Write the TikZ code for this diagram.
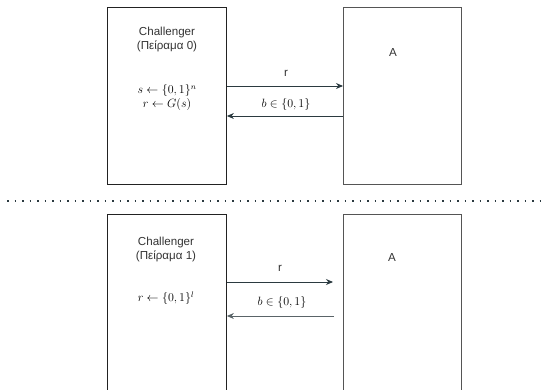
\documentclass[tikz,border=0pt]{standalone}
\usepackage{fontspec}
\setmainfont{Liberation Sans}
\usetikzlibrary{arrows.meta}
\definecolor{txt}{HTML}{333333}
\definecolor{arr}{HTML}{2B3A40}
\definecolor{arrlight}{HTML}{5A6468}
\definecolor{boxline}{HTML}{222222}
\definecolor{boxline2}{HTML}{555555}
\tikzset{
  partybox/.style={draw=boxline, line width=0.9pt, rectangle, anchor=north west, inner sep=0pt},
  lbl/.style={text=txt, font=\fontsize{11.6}{14}\selectfont, align=center, inner sep=0pt},
  mathlbl/.style={text=black, font=\fontsize{12}{14}\selectfont, align=center, inner sep=0pt},
  msg/.style={draw=arr, line width=0.9pt, -{Stealth[length=7pt,width=6pt]}},
}
\begin{document}
\begin{tikzpicture}[x=1pt,y=-1pt]
\useasboundingbox (0,0) rectangle (544,390);
\clip (0,0) rectangle (544,390);
% top row
\node[partybox, minimum width=119pt, minimum height=177pt] (TL) at (107,7) {};
\node[partybox, draw=boxline2, minimum width=118pt, minimum height=177pt] (TR) at (343,7) {};
\node[lbl] (tlname) at (167,40) {Challenger\\(Πείραμα 0)};
\node[mathlbl] (tlmath) at (167,97.5) {$s\leftarrow\{0,1\}^n$\\$r\leftarrow G(s)$};
\node[lbl] (tra) at (393,53) {A};
\coordinate (t1) at (0,86);
\coordinate (t2) at (0,116);
\draw[msg] (TL.east |- t1) -- (TR.west |- t1);
\draw[msg] (TR.west |- t2) -- (TL.east |- t2);
\node[lbl] (tr) at (286,73) {r};
\node[mathlbl] (tb) at (286,104.5) {$b\in\{0,1\}$};
% separator
\coordinate (s1) at (7,201);
\coordinate (s2) at (544,201);
\draw[arr, line width=1.8pt, dash pattern=on 1.8pt off 5.7pt] (s1) -- (s2);
% bottom row
\node[partybox, minimum width=119pt, minimum height=200pt] (BL) at (107,214) {};
\node[partybox, draw=boxline2, minimum width=118pt, minimum height=200pt] (BR) at (343,214) {};
\node[lbl] (blname) at (166,250) {Challenger\\(Πείραμα 1)};
\node[mathlbl] (blmath) at (166,298) {$r\leftarrow\{0,1\}^l$};
\node[lbl] (bra) at (392,258) {A};
\coordinate (b1) at (0,282);
\coordinate (b2) at (0,316);
\coordinate (b1end) at (333,282);
\coordinate (b2start) at (334,316);
\draw[msg] (BL.east |- b1) -- (b1end);
\draw[msg, draw=arrlight] (b2start) -- (BL.east |- b2);
\node[lbl] (br) at (280,268) {r};
\node[mathlbl] (bb) at (282,302.5) {$b\in\{0,1\}$};
\end{tikzpicture}
\end{document}
